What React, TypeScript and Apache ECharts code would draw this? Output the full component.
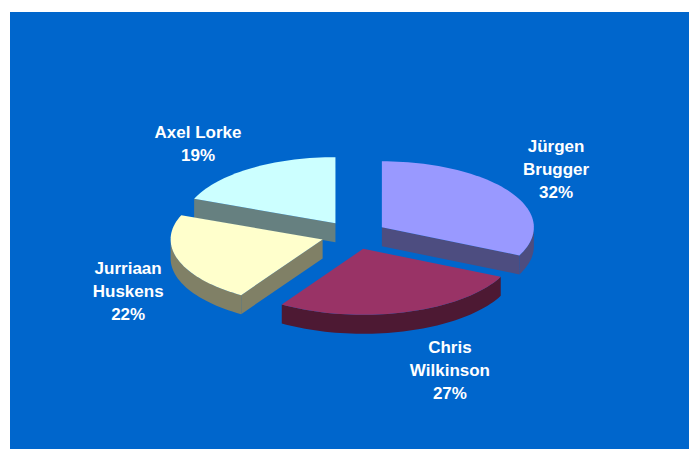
import React, { useEffect, useRef } from "react";
import * as echarts from "echarts";

// ---- data ----
const names = ["Jürgen\nBrugger", "Chris\nWilkinson", "Jurriaan\nHuskens", "Axel Lorke"];
const values = [32, 27, 22, 19];

// ---- styles ----
const topColors = ["#9999FF", "#993366", "#FFFFCC", "#CCFFFF"];
const sideColors = ["#4D4D80", "#4D1933", "#808066", "#668080"];
const BG = "#0066CC";

// ---- geometry ----
const CX = 354;
const CY = 235;
const RX = 152;
const RY = 66;
const EXPLODE = 33;
const DEPTH = 19;
const LABEL_R = 1.1;
const LINE_H = 23;
const FONT = 'bold 17px "Liberation Sans", Arial, sans-serif';

function measure(text: string): number {
  const c = document.createElement("canvas").getContext("2d");
  if (!c) return text.length * 9;
  c.font = FONT;
  return Math.max(...text.split("\n").map((l) => c.measureText(l).width));
}

export default function App() {
  const ref = useRef<HTMLDivElement>(null);
  useEffect(() => {
    if (!ref.current) return;
    const chart = echarts.init(ref.current, undefined, { renderer: "svg" });
    const total = values.reduce((a, b) => a + b, 0);
    const starts: number[] = [];
    let acc = 0;
    values.forEach((v) => {
      starts.push(acc);
      acc += v;
    });
    const depthRank = (i: number) => {
      const mid = ((starts[i] + values[i] / 2) / total) * 2 * Math.PI;
      return -Math.cos(mid);
    };
    const order = values.map((_, i) => i).sort((a, b) => depthRank(a) - depthRank(b));

    const renderItem = (params: any, api: any) => {
      const i = params.dataIndex;
      const v = api.value(0) as number;
      const a0 = (starts[i] / total) * 2 * Math.PI;
      const a1 = a0 + (v / total) * 2 * Math.PI;
      const am = (a0 + a1) / 2;
      const ox = CX + EXPLODE * Math.sin(am);
      const oy = CY - EXPLODE * (RY / RX) * Math.cos(am);
      const pt = (a: number, r: number, d: number) => [
        ox + r * RX * Math.sin(a),
        oy - r * RY * Math.cos(a) + d,
      ];
      const arc = (from: number, to: number, d: number) => {
        const pts: number[][] = [];
        const n = Math.max(2, Math.ceil(Math.abs(to - from) / (Math.PI / 90)));
        for (let k = 0; k <= n; k++) pts.push(pt(from + ((to - from) * k) / n, 1, d));
        return pts;
      };
      const rank = order.indexOf(i);
      const children: any[] = [];
      const side = sideColors[i];
      if (Math.sin(a0) < -1e-6) {
        children.push({
          type: "polygon",
          z2: rank * 3,
          shape: { points: [pt(a0, 0, 0), pt(a0, 1, 0), pt(a0, 1, DEPTH), pt(a0, 0, DEPTH)] },
          style: { fill: side },
        });
      }
      if (Math.sin(a1) > 1e-6) {
        children.push({
          type: "polygon",
          z2: rank * 3,
          shape: { points: [pt(a1, 0, 0), pt(a1, 1, 0), pt(a1, 1, DEPTH), pt(a1, 0, DEPTH)] },
          style: { fill: side },
        });
      }
      const f0 = Math.max(a0, Math.PI / 2);
      const f1 = Math.min(a1, (3 * Math.PI) / 2);
      if (f1 > f0) {
        const pts = arc(f0, f1, 0).concat(arc(f1, f0, DEPTH));
        children.push({
          type: "polygon",
          z2: rank * 3 + 1,
          shape: { points: pts },
          style: { fill: side },
        });
      }
      children.push({
        type: "polygon",
        z2: 100,
        shape: { points: [pt(a0, 0, 0)].concat(arc(a0, a1, 0)) },
        style: { fill: topColors[i] },
      });
      const text = names[i] + "\n" + Math.round((v / total) * 100) + "%";
      const w = measure(text);
      const h = text.split("\n").length * LINE_H;
      const anchor = pt(am, LABEL_R, Math.cos(am) < 0 ? DEPTH : 0);
      const lx = anchor[0] + (Math.sin(am) >= 0 ? w / 2 : -w / 2);
      const ly = anchor[1] - Math.cos(am) * (h / 2);
      children.push({
        type: "text",
        z2: 200,
        x: lx,
        y: ly,
        style: {
          text,
          fill: "#FFFFFF",
          font: FONT,
          lineHeight: LINE_H,
          align: "center",
          verticalAlign: "middle",
        },
      });
      return { type: "group", children };
    };

    chart.setOption({
      animation: false,
      backgroundColor: "#FFFFFF",
      graphic: [
        {
          type: "rect",
          left: 10,
          top: 12,
          z: -10,
          shape: { width: 679, height: 437 },
          style: { fill: BG },
          silent: true,
        },
      ],
      series: [
        {
          type: "custom",
          coordinateSystem: "none",
          silent: true,
          renderItem,
          data: values.map((v, i) => ({ value: [v], name: names[i] })),
        },
      ],
    });
    return () => chart.dispose();
  }, []);
  return (
    <div
      ref={ref}
      style={{ position: "fixed", left: 0, top: 0, width: 689, height: 449 }}
    />
  );
}
